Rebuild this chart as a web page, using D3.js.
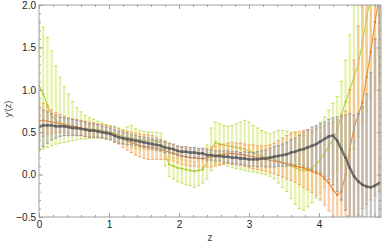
<!DOCTYPE html>
<html>
<head>
<meta charset="utf-8">
<script src="https://cdn.jsdelivr.net/npm/d3@7"></script>
<style>
  body { margin: 0; background: #fff; }
  text { font-family: "Liberation Sans", Arial, sans-serif; }
</style>
</head>
<body>
<script>
// z grid (every 0.06)
var zStep = 0.06;
var zs = d3.range(82).map(function (i) { return +(i * zStep).toFixed(2); });

var grayMid = [0.56,0.58,0.58,0.58,0.57,0.57,0.57,0.56,0.55,0.55,
  0.54,0.53,0.52,0.52,0.51,0.50,0.49,0.48,0.46,0.44,
  0.43,0.42,0.41,0.40,0.39,0.38,0.37,0.36,0.35,0.34,
  0.32,0.31,0.30,0.28,0.27,0.27,0.26,0.26,0.25,0.25,
  0.23,0.23,0.22,0.22,0.21,0.21,0.20,0.20,0.19,0.19,
  0.18,0.18,0.18,0.19,0.19,0.20,0.21,0.22,0.23,0.24,
  0.26,0.27,0.29,0.30,0.32,0.34,0.36,0.39,0.42,0.45,
  0.46,0.40,0.30,0.20,0.08,-0.02,-0.08,-0.12,-0.14,-0.15,-0.13,-0.10];
var grayLo = [0.30,0.33,0.37,0.41,0.43,0.45,0.46,0.46,0.46,0.46,
  0.46,0.45,0.44,0.44,0.44,0.43,0.42,0.41,0.39,0.37,
  0.36,0.35,0.35,0.34,0.33,0.32,0.31,0.30,0.29,0.28,
  0.26,0.25,0.24,0.22,0.21,0.21,0.20,0.20,0.19,0.19,
  0.17,0.17,0.16,0.16,0.14,0.14,0.13,0.13,0.12,0.11,
  0.10,0.10,0.09,0.10,0.09,0.09,0.09,0.10,0.10,0.10,
  0.11,0.11,0.12,0.10,0.08,0.06,0.04,0.02,-0.02,-0.06,
  -0.12,-0.20,-0.30,-0.42,-0.55,-0.65,-0.75,-0.85,-0.95,-1.05,-1.15,-1.25];
var grayHi = [0.78,0.76,0.74,0.72,0.70,0.68,0.67,0.66,0.65,0.64,
  0.63,0.62,0.60,0.60,0.59,0.57,0.56,0.55,0.53,0.51,
  0.50,0.49,0.47,0.46,0.45,0.44,0.43,0.42,0.41,0.40,
  0.38,0.37,0.36,0.34,0.33,0.33,0.32,0.32,0.31,0.31,
  0.29,0.29,0.28,0.28,0.28,0.28,0.27,0.27,0.26,0.27,
  0.26,0.26,0.27,0.28,0.29,0.31,0.33,0.34,0.36,0.38,
  0.41,0.43,0.46,0.50,0.53,0.56,0.58,0.60,0.62,0.65,
  0.67,0.68,0.68,0.70,0.72,0.70,0.72,0.80,0.95,1.20,1.60,2.10];

var orangeMid = [0.63,0.64,0.63,0.62,0.61,0.60,0.59,0.58,0.57,0.56,
  0.55,0.54,0.53,0.52,0.52,0.51,0.50,0.49,0.47,0.45,
  0.42,0.40,0.38,0.36,0.34,0.33,0.33,0.32,0.31,0.30,
  0.28,0.27,0.25,0.24,0.22,0.21,0.20,0.20,0.19,0.19,
  0.20,0.21,0.22,0.23,0.24,0.25,0.25,0.24,0.24,0.23,
  0.22,0.21,0.20,0.19,0.18,0.17,0.16,0.15,0.14,0.13,
  0.12,0.10,0.09,0.08,0.06,0.04,0.02,0.00,-0.05,-0.10,
  -0.18,-0.24,-0.20,0.00,0.30,0.55,0.70,0.85,1.15,1.45,1.80,2.10];
var orangeLo = [0.42,0.45,0.47,0.49,0.50,0.50,0.50,0.49,0.48,0.47,
  0.46,0.45,0.45,0.44,0.44,0.43,0.42,0.41,0.38,0.36,
  0.32,0.29,0.26,0.23,0.21,0.19,0.18,0.18,0.18,0.18,
  0.18,0.17,0.16,0.14,0.12,0.11,0.10,0.10,0.09,0.08,
  0.09,0.09,0.10,0.11,0.12,0.13,0.12,0.11,0.11,0.10,
  0.08,0.07,0.06,0.05,0.04,0.02,0.01,-0.01,-0.03,-0.05,
  -0.07,-0.09,-0.12,-0.15,-0.18,-0.21,-0.25,-0.30,-0.36,-0.43,
  -0.50,-0.60,-0.70,-0.75,-0.65,-0.55,-0.48,-0.40,-0.35,-0.30,-0.25,-0.20];
var orangeHi = [0.85,0.84,0.80,0.76,0.73,0.71,0.69,0.67,0.66,0.65,
  0.64,0.63,0.62,0.61,0.60,0.59,0.58,0.57,0.56,0.54,
  0.52,0.51,0.50,0.49,0.48,0.47,0.47,0.46,0.44,0.42,
  0.39,0.37,0.35,0.33,0.32,0.31,0.30,0.30,0.29,0.30,
  0.31,0.33,0.34,0.35,0.36,0.37,0.38,0.37,0.37,0.36,
  0.35,0.35,0.34,0.34,0.34,0.35,0.37,0.40,0.43,0.46,
  0.48,0.50,0.51,0.52,0.52,0.53,0.54,0.56,0.58,0.60,
  0.62,0.65,0.70,0.75,1.00,1.35,1.75,2.15,2.50,2.80,3.00,3.20];

var greenMid = [1.05,0.95,0.82,0.70,0.64,0.61,0.59,0.58,0.57,0.56,
  0.55,0.54,0.54,0.53,0.53,0.52,0.51,0.50,0.49,0.47,
  0.45,0.44,0.43,0.42,0.41,0.41,0.40,0.40,0.39,0.38,
  0.25,0.12,0.10,0.08,0.07,0.06,0.05,0.04,0.05,0.06,
  0.15,0.30,0.38,0.36,0.35,0.34,0.33,0.32,0.31,0.30,
  0.28,0.26,0.24,0.22,0.21,0.20,0.18,0.16,0.14,0.12,
  0.10,0.08,0.06,0.05,0.05,0.08,0.12,0.18,0.25,0.33,
  0.42,0.52,0.70,0.86,1.00,1.15,1.30,1.55,1.85,2.10,2.35,2.60];
var greenLo = [0.28,0.30,0.32,0.34,0.36,0.37,0.38,0.39,0.40,0.41,
  0.42,0.42,0.43,0.43,0.43,0.44,0.44,0.43,0.42,0.40,
  0.37,0.35,0.32,0.31,0.30,0.30,0.29,0.29,0.28,0.27,
  0.10,-0.02,-0.05,-0.08,-0.10,-0.12,-0.13,-0.15,-0.13,-0.10,
  -0.05,0.05,0.12,0.12,0.12,0.10,0.08,0.07,0.06,0.05,
  0.04,0.03,0.02,0.01,0.00,-0.02,-0.05,-0.10,-0.15,-0.20,
  -0.28,-0.35,-0.40,-0.42,-0.38,-0.33,-0.28,-0.22,-0.15,-0.08,
  0.00,0.05,0.10,0.15,0.20,0.30,0.45,0.60,0.75,0.90,1.00,1.10];
var greenHi = [1.82,1.74,1.62,1.46,1.28,1.15,1.04,0.95,0.86,0.79,
  0.74,0.70,0.67,0.65,0.63,0.61,0.59,0.58,0.57,0.55,
  0.53,0.56,0.58,0.54,0.52,0.51,0.50,0.50,0.50,0.49,
  0.40,0.22,0.20,0.19,0.18,0.17,0.16,0.15,0.16,0.18,
  0.35,0.55,0.62,0.60,0.58,0.57,0.58,0.60,0.62,0.64,
  0.62,0.58,0.55,0.52,0.50,0.48,0.50,0.52,0.52,0.51,
  0.50,0.50,0.48,0.46,0.46,0.50,0.56,0.62,0.68,0.76,
  0.84,0.92,1.10,1.35,1.65,2.00,2.30,2.60,2.90,3.20,3.50,3.80];

var xTicks = [0, 1, 2, 3, 4];
var yTicks = [-0.5, 0, 0.5, 1, 1.5, 2];

var margin = { top: 5, right: 1, bottom: 29, left: 39 },
  width = 382 - margin.left - margin.right,
  height = 246 - margin.top - margin.bottom;

var svg = d3.select("body").append("svg")
  .attr("width", 382).attr("height", 246)
  .append("g")
  .attr("transform", "translate(" + margin.left + "," + margin.top + ")");

var x = d3.scaleLinear().domain([0, width / 70]).range([0, width]);
var y = d3.scaleLinear().domain([-0.5, 2]).range([height, 0]);

svg.append("clipPath").attr("id", "plot")
  .append("rect").attr("width", width).attr("height", height);

var series = [
  { mid: greenMid, lo: greenLo, hi: greenHi, bar: "#d6ec86", cap: "#b8d63c", line: "#a8ca2c", lw: 1.1, pt: 2 },
  { mid: orangeMid, lo: orangeLo, hi: orangeHi, bar: "#f8b474", cap: "#f39848", line: "#ec7a1c", lw: 1.1, pt: 2 },
  { mid: grayMid, lo: grayLo, hi: grayHi, bar: "#a8a8a8", cap: "#8c8c8c", line: "#5e5e5e", lw: 2.4, pt: 2.4 }
];

var plot = svg.append("g").attr("clip-path", "url(#plot)");

series.forEach(function (s) {
  var pts = zs.map(function (z, i) {
    return { z: z, m: s.mid[i], lo: s.lo[i], hi: s.hi[i] };
  });
  var g = plot.append("g");

  g.selectAll(".bar").data(pts).enter().append("line")
    .attr("x1", function (d) { return x(d.z); })
    .attr("x2", function (d) { return x(d.z); })
    .attr("y1", function (d) { return y(d.lo); })
    .attr("y2", function (d) { return y(d.hi); })
    .attr("stroke", s.bar).attr("stroke-width", 2.4)
    .attr("stroke-opacity", 0.62);

  ["lo", "hi"].forEach(function (k) {
    g.selectAll(".cap-" + k).data(pts).enter().append("line")
      .attr("x1", function (d) { return x(d.z) - 1.6; })
      .attr("x2", function (d) { return x(d.z) + 1.6; })
      .attr("y1", function (d) { return y(d[k]); })
      .attr("y2", function (d) { return y(d[k]); })
      .attr("stroke", s.cap).attr("stroke-width", 1)
      .attr("stroke-opacity", 0.8);
  });

  g.append("path").datum(pts)
    .attr("fill", "none").attr("stroke", s.line)
    .attr("stroke-width", s.lw).attr("stroke-opacity", 0.85)
    .attr("d", d3.line()
      .x(function (d) { return x(d.z); })
      .y(function (d) { return y(d.m); }));

  g.selectAll(".pt").data(pts).enter().append("rect")
    .attr("x", function (d) { return x(d.z) - s.pt / 2; })
    .attr("y", function (d) { return y(d.m) - s.pt / 2; })
    .attr("width", s.pt).attr("height", s.pt)
    .attr("fill", s.line);
});

// frame
svg.append("rect").attr("width", width).attr("height", height)
  .attr("fill", "none").attr("stroke", "#a0a0a0").attr("stroke-width", 1);

function styleAxis(g) {
  g.select(".domain").remove();
  g.selectAll(".tick line").attr("stroke", "#a0a0a0");
  g.selectAll("text").attr("fill", "#222").style("font-size", "10px");
}

var xMinor = d3.range(0, 4.81, 0.2);
var yMinor = d3.range(-0.5, 2.01, 0.1);

svg.append("g").attr("transform", "translate(0," + height + ")")
  .call(d3.axisBottom(x).tickValues(xMinor).tickSize(-2).tickFormat(""))
  .call(styleAxis);
svg.append("g").attr("transform", "translate(0," + height + ")")
  .call(d3.axisBottom(x).tickValues(xTicks).tickSize(-4).tickPadding(4)
    .tickFormat(d3.format("d")))
  .call(styleAxis);
svg.append("g")
  .call(d3.axisTop(x).tickValues(xMinor).tickSize(-2).tickFormat(""))
  .call(styleAxis);
svg.append("g")
  .call(d3.axisTop(x).tickValues(xTicks).tickSize(-4).tickFormat(""))
  .call(styleAxis);

svg.append("g")
  .call(d3.axisLeft(y).tickValues(yMinor).tickSize(-2).tickFormat(""))
  .call(styleAxis);
svg.append("g")
  .call(d3.axisLeft(y).tickValues(yTicks).tickSize(-4).tickPadding(3)
    .tickFormat(d3.format(".1f")))
  .call(styleAxis);
svg.append("g").attr("transform", "translate(" + width + ",0)")
  .call(d3.axisRight(y).tickValues(yMinor).tickSize(-2).tickFormat(""))
  .call(styleAxis);
svg.append("g").attr("transform", "translate(" + width + ",0)")
  .call(d3.axisRight(y).tickValues(yTicks).tickSize(-4).tickFormat(""))
  .call(styleAxis);

// axis labels
svg.append("text")
  .attr("x", width / 2).attr("y", height + 24)
  .attr("text-anchor", "middle").attr("fill", "#444")
  .style("font-size", "10px").text("z");

svg.append("text")
  .attr("transform", "translate(" + (11 - margin.left) + "," + (height / 2 - 2) + ") rotate(-90)")
  .attr("text-anchor", "middle").attr("fill", "#444")
  .style("font-size", "9px").text("y\u2032(z)");
</script>
</body>
</html>
